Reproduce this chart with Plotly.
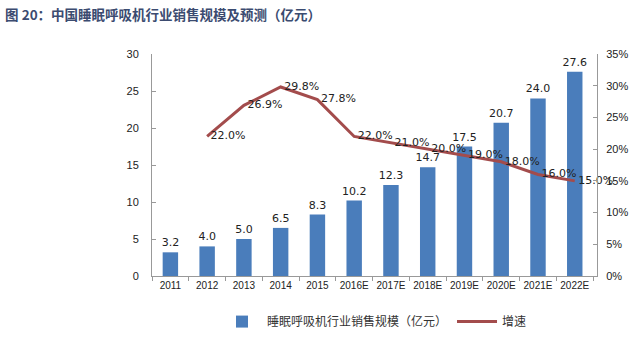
import plotly.graph_objects as go

categories = ["2011", "2012", "2013", "2014", "2015", "2016E", "2017E", "2018E",
              "2019E", "2020E", "2021E", "2022E"]
sales = [3.2, 4.0, 5.0, 6.5, 8.3, 10.2, 12.3, 14.7, 17.5, 20.7, 24.0, 27.6]
growth_cats = categories[1:]
growth = [0.22, 0.269, 0.298, 0.278, 0.22, 0.21, 0.20, 0.19, 0.18, 0.16, 0.15]

bar_name = "睡眠呼吸机行业销售规模（亿元）"
line_name = "增速"
title = "图 20：中国睡眠呼吸机行业销售规模及预测（亿元）"

fig = go.Figure()
fig.add_trace(go.Bar(
    x=categories, y=sales, name=bar_name,
    marker=dict(color="#4a7dbb", line=dict(width=0)),
    width=0.42,
    text=[f"{v:.1f}" for v in sales], textposition="outside",
    constraintext="none",
    textfont=dict(size=11, color="#222222", family="DejaVu Sans"),
    cliponaxis=False,
))
fig.add_trace(go.Scatter(
    x=growth_cats, y=growth, name=line_name, yaxis="y2",
    mode="lines+text",
    line=dict(color="#a34c4c", width=3),
    text=["\u00a0" + f"{v*100:.1f}%" for v in growth], textposition="middle right",
    textfont=dict(size=11, color="#222222", family="DejaVu Sans"),
    cliponaxis=False,
))

fig.update_layout(
    width=640, height=348,
    margin=dict(l=152, r=36, t=54, b=52),
    paper_bgcolor="white", plot_bgcolor="white",
    font=dict(family="Liberation Sans", size=11, color="#333333"),
    title=dict(text="<b>" + title + "</b>", x=0.008, xanchor="left", y=0.955, yanchor="middle",
               font=dict(size=13.5, color="#3b4b70", family="Noto Sans CJK SC")),
    bargap=0.5,
    showlegend=True,
    legend=dict(orientation="h", x=0.5, xanchor="center", y=-0.14, yanchor="top",
                font=dict(size=12, color="#333333", family="Noto Sans CJK SC"),
                itemwidth=40, traceorder="normal"),
    xaxis=dict(type="category", showline=True, linecolor="#999999", linewidth=1,
               ticks="outside", tickson="boundaries", ticklen=4, tickcolor="#999999",
               tickangle=0, tickfont=dict(size=10, color="#222222"), showgrid=False),
    yaxis=dict(range=[0, 30], dtick=5, showline=True, linecolor="#999999", linewidth=1,
               ticks="inside", ticklen=4, tickcolor="#999999", showgrid=False,
               zeroline=False, tickfont=dict(size=11, color="#222222"), ticklabelstandoff=10),
    yaxis2=dict(range=[0, 0.35], dtick=0.05, tickformat=".0%", overlaying="y", side="right",
                showline=True, linecolor="#999999", linewidth=1, ticks="inside", ticklen=4,
                tickcolor="#999999", showgrid=False, zeroline=False,
                tickfont=dict(size=11, color="#222222"), ticklabelstandoff=6),
)

fig.write_html("out.html")
